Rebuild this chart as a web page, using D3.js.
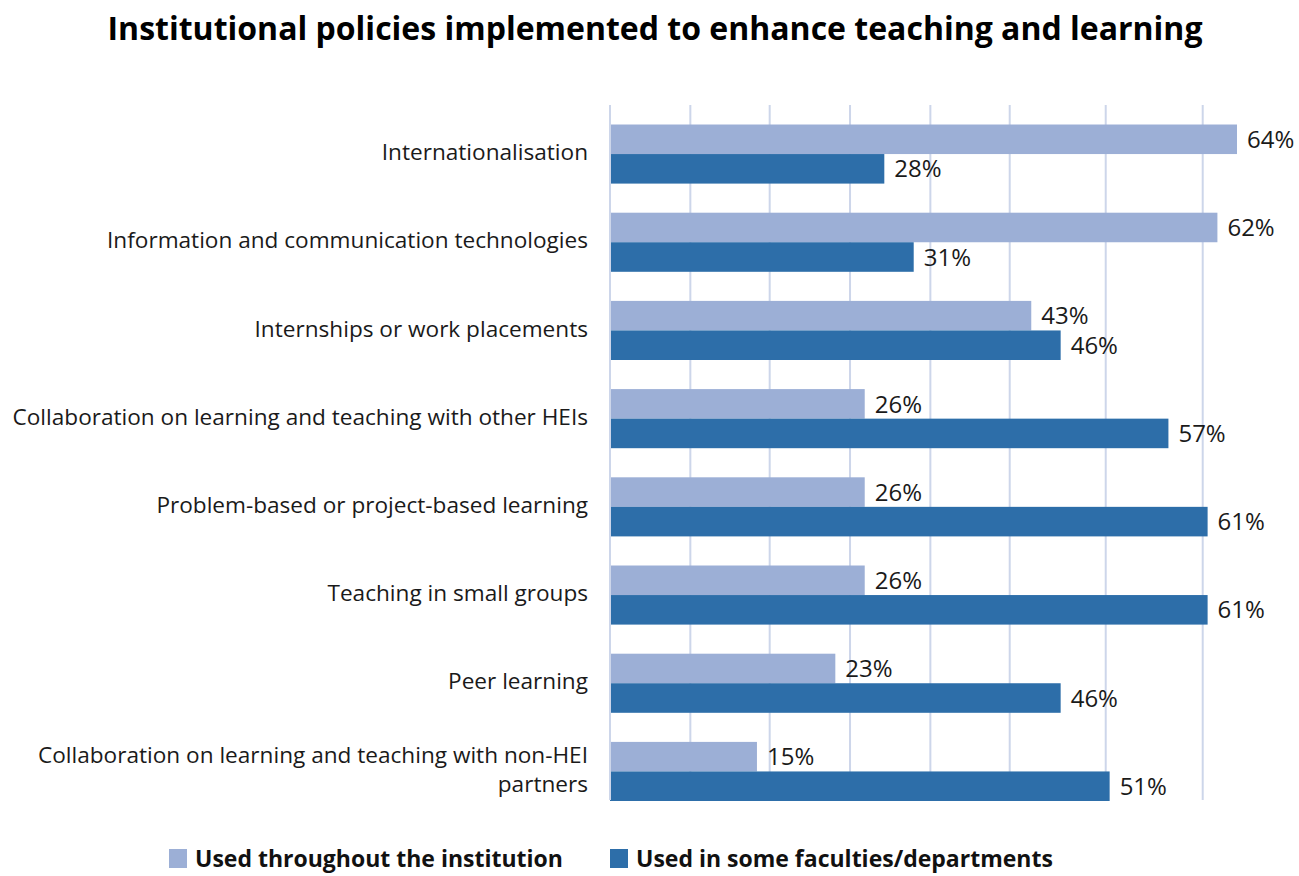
<!DOCTYPE html>
<html>
<head>
<meta charset="utf-8">
<script src="https://cdn.jsdelivr.net/npm/d3@7"></script>
<style>
  html, body { margin: 0; padding: 0; background: #ffffff; }
  svg { display: block; }
  text { font-family: "Open Sans", Lato, sans-serif; fill: #1a1a1a; }
</style>
</head>
<body>
<svg id="chart" width="1299" height="876"></svg>
<script>
const title = "Institutional policies implemented to enhance teaching and learning";
const categories = [
  "Internationalisation",
  "Information and communication technologies",
  "Internships or work placements",
  "Collaboration on learning and teaching with other HEIs",
  "Problem-based or project-based learning",
  "Teaching in small groups",
  "Peer learning",
  "Collaboration on learning and teaching with non-HEI partners"
];
const seriesNames = ["Used throughout the institution", "Used in some faculties/departments"];
const throughoutValues = [64, 62, 43, 26, 26, 26, 23, 15];
const someFacultiesValues = [28, 31, 46, 57, 61, 61, 46, 51];
const gridValues = [0, 8.2, 16.3, 24.5, 32.7, 40.8, 50.6, 60.5];
const colors = ["#9cafd6", "#2d6ea9"];

const svg = d3.select("#chart");
const x0 = 610;
const x = d3.scaleLinear().domain([0, 64]).range([x0, x0 + 627]);
const y = d3.scaleBand().domain(categories).range([109.95, 815.55]).paddingInner(0.33).paddingOuter(0.165);
const gridTop = 105, gridBottom = 800;

// title
svg.append("text")
  .attr("x", 655).attr("y", 40)
  .attr("text-anchor", "middle")
  .style("font-size", "32px").style("font-weight", "700")
  .style("fill", "#000")
  .text(title);

// gridlines
svg.append("g").selectAll("line").data(gridValues).join("line")
  .attr("x1", d => x(d)).attr("x2", d => x(d))
  .attr("y1", gridTop).attr("y2", gridBottom)
  .attr("stroke", "#cdd6ea").attr("stroke-width", 2);

const bh = y.bandwidth() / 2;
const series = [throughoutValues, someFacultiesValues];

series.forEach((vals, si) => {
  const g = svg.append("g");
  g.selectAll("rect").data(categories).join("rect")
    .attr("x", x(0))
    .attr("y", (d) => y(d) + si * bh)
    .attr("width", (d, i) => x(vals[i]) - x(0))
    .attr("height", bh)
    .attr("fill", colors[si]);
  g.selectAll("text").data(categories).join("text")
    .attr("x", (d, i) => x(vals[i]) + 10)
    .attr("y", (d) => y(d) + si * bh + bh / 2)
    .attr("dy", "0.36em")
    .style("font-size", "24px")
    .text((d, i) => vals[i] + "%");
});

// axis line
svg.append("line").attr("x1", x0).attr("x2", x0).attr("y1", gridTop).attr("y2", gridBottom)
  .attr("stroke", "#cdd6ea").attr("stroke-width", 2);

// category labels with wrapping
const maxW = 590;
const labelG = svg.append("g");
categories.forEach((c) => {
  const t = labelG.append("text")
    .attr("x", 588).attr("text-anchor", "end")
    .style("font-size", "22.6px");
  const words = c.split(" ");
  let lines = [], line = [];
  const tmp = t.append("tspan");
  words.forEach(w => {
    line.push(w);
    tmp.text(line.join(" "));
    if (tmp.node().getComputedTextLength() > maxW && line.length > 1) {
      line.pop(); lines.push(line.join(" ")); line = [w];
    }
  });
  lines.push(line.join(" "));
  tmp.remove();
  const cy = y(c) + y.bandwidth() / 2;
  const lh = 29;
  lines.forEach((l, li) => {
    t.append("tspan").attr("x", 588)
      .attr("y", cy - (lines.length - 1) * lh / 2 + li * lh - 2)
      .attr("dy", "0.36em").text(l);
  });
});

// legend
const legendX = [169, 610];
seriesNames.forEach((n, i) => {
  svg.append("rect").attr("x", legendX[i]).attr("y", 849).attr("width", 18).attr("height", 19).attr("fill", colors[i]);
  svg.append("text").attr("x", legendX[i] + 26).attr("y", 859).attr("dy", "0.36em")
    .style("font-size", "23px").style("font-weight", "700").style("fill", "#111")
    .text(n);
});
</script>
</body>
</html>
